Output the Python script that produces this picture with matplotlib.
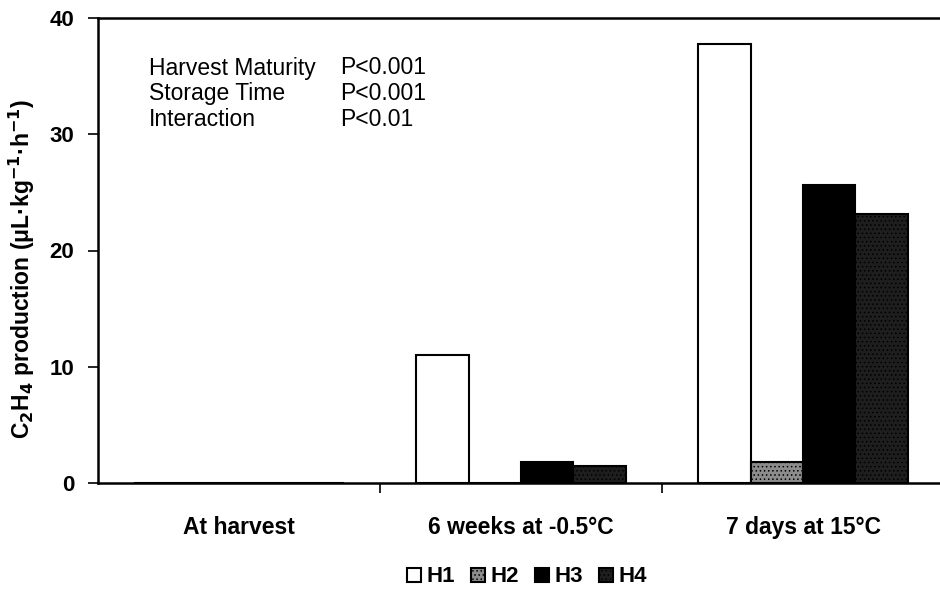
import matplotlib.pyplot as plt
import numpy as np

plt.rcParams['font.family'] = ['Liberation Sans', 'DejaVu Sans']

categories = ["At harvest", "6 weeks at -0.5°C", "7 days at 15°C"]
series_names = ["H1", "H2", "H3", "H4"]
h1 = [0.0, 11.0, 37.8]
h2 = [0.0, 0.0, 1.8]
h3 = [0.0, 1.8, 25.6]
h4 = [0.0, 1.5, 23.1]
stats_labels = ["Harvest Maturity", "Storage Time", "Interaction"]
stats_values = ["P<0.001", "P<0.001", "P<0.01"]

fig = plt.figure(figsize=(9.4, 5.91), dpi=100)
ax = fig.add_axes([98 / 940, 1 - 483 / 591, 846 / 940, (483 - 18) / 591])

x = np.arange(len(categories))
width = 0.186
plt.rcParams['hatch.color'] = '#555555'
plt.rcParams['hatch.linewidth'] = 0.6
styles = [
    dict(facecolor="white", hatch=None),
    dict(facecolor="#8c8c8c", hatch="...."),
    dict(facecolor="black", hatch=None),
    dict(facecolor="#1e1e1e", hatch="...."),
]
for i, (vals, st) in enumerate(zip([h1, h2, h3, h4], styles)):
    ax.bar(x + (i - 1.5) * width, vals, width, color=st["facecolor"],
           hatch=st["hatch"], edgecolor="black", linewidth=1.5,
           label=series_names[i], zorder=3)

ax.set_xlim(-0.5, 2.5)
ax.set_ylim(0, 40)
ax.set_yticks([0, 10, 20, 30, 40])
ax.set_xticks(x)
ax.set_xticklabels(categories, fontsize=16.5, fontweight="bold")
ax.set_xticks([0.5, 1.5], minor=True)
ax.tick_params(axis="x", which="major", length=0, pad=24)
ax.tick_params(axis="x", which="minor", length=7, width=1.2, direction="out")
ax.tick_params(axis="y", length=7, width=1.2, direction="out", labelsize=16, pad=10)
for lab in ax.get_yticklabels():
    lab.set_fontweight("bold")
for sp in ax.spines.values():
    sp.set_linewidth(1.8)

ax.set_ylabel(r"C$_\mathbf{2}$H$_\mathbf{4}$ production (μL·kg$^{\mathbf{-1}}$·h$^{\mathbf{-1}}$)",
              fontsize=16.5, fontweight="bold")
ax.yaxis.set_label_coords(-0.072, 0.46)

for k, (lab, val) in enumerate(zip(stats_labels, stats_values)):
    fig.text(149 / 940, 1 - (68 + 25.5 * k) / 591, lab, fontsize=16.5, va="center")
    fig.text(340 / 940, 1 - (68 + 25.5 * k) / 591, val, fontsize=16.5, va="center")

fig.legend(loc="center", bbox_to_anchor=(527 / 940, 1 - 577 / 591), ncol=4,
           frameon=False, handlelength=0.6, handleheight=0.6, handletextpad=0.25,
           columnspacing=0.75, prop={"size": 16, "weight": "bold"})

fig.savefig("out.png", dpi=100, facecolor="white")
